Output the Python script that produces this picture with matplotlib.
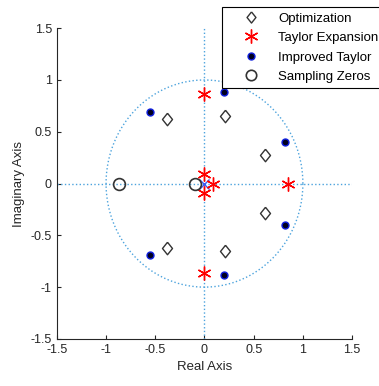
import numpy as np
import matplotlib.pyplot as plt
from matplotlib.lines import Line2D

plt.rcParams['font.family'] = ['Liberation Sans', 'DejaVu Sans']

# zero locations
opt_re = [-0.38, -0.38, 0.21, 0.21, 0.62, 0.62]
opt_im = [0.62, -0.62, 0.65, -0.65, 0.28, -0.28]

taylor_re = [0.0, 0.0, 0.0, 0.0, 0.09, 0.85]
taylor_im = [0.86, -0.86, 0.09, -0.09, 0.0, 0.0]

impr_re = [-0.55, -0.55, 0.20, 0.20, 0.82, 0.82]
impr_im = [0.69, -0.69, 0.88, -0.88, 0.40, -0.40]

samp_re = [-0.87, -0.10]
samp_im = [0.0, 0.0]

pole_re = [0.0]
pole_im = [0.0]

labels = ['Optimization', 'Taylor Expansion', 'Improved Taylor', 'Sampling Zeros']

grid_col = '#4ca3dd'
txt_col = '#262626'
diamond = [(0, 1), (0.8, 0), (0, -1), (-0.8, 0), (0, 1)]

fig = plt.figure(figsize=(3.79, 3.86), dpi=100)
ax = fig.add_axes([0.150, 0.122, 0.779, 0.805])

# unit circle and axes lines
t = np.linspace(0, 2 * np.pi, 400)
ax.plot(np.cos(t), np.sin(t), ':', color=grid_col, lw=1)
ax.plot([-1.5, 1.5], [0, 0], ':', color=grid_col, lw=1)
ax.plot([0, 0], [-1.5, 1.5], ':', color=grid_col, lw=1)

ax.plot(pole_re, pole_im, 'x', color='#3b5cf5', ms=7, mew=1)
h1, = ax.plot(opt_re, opt_im, marker=diamond, mfc='none', mec='#333333',
              ms=9, mew=1, ls='none')
# MATLAB-style asterisk
ax.plot(taylor_re, taylor_im, marker=(6, 2, 0), color='red', ms=10, mew=1,
        ls='none')
h3, = ax.plot(impr_re, impr_im, 'o', mfc='#000020', mec='#1020e0', ms=5,
              mew=1, ls='none')
h4, = ax.plot(samp_re, samp_im, 'o', mfc='none', mec='#333333', ms=8.5,
              mew=1.2, ls='none')

ax.set_xlim(-1.5, 1.5)
ax.set_ylim(-1.5, 1.5)
ax.set_xticks([-1.5, -1, -0.5, 0, 0.5, 1, 1.5])
ax.set_xticklabels(['-1.5', '-1', '-0.5', '0', '0.5', '1', '1.5'])
ax.set_yticks([-1.5, -1, -0.5, 0, 0.5, 1, 1.5])
ax.set_yticklabels(['-1.5', '-1', '-0.5', '0', '0.5', '1', '1.5'])
ax.spines['top'].set_visible(False)
ax.spines['right'].set_visible(False)
for s in ['left', 'bottom']:
    ax.spines[s].set_color(txt_col)
    ax.spines[s].set_linewidth(0.8)
ax.tick_params(labelsize=9, colors=txt_col, direction='in', length=3)
ax.set_xlabel('Real Axis', fontsize=9.5, color=txt_col)
ax.set_ylabel('Imaginary Axis', fontsize=9.5, color=txt_col)

d_leg = Line2D([], [], marker=diamond, mfc='none', mec='#333333', ms=8,
               mew=1, ls='none')
star = Line2D([], [], marker=(6, 2, 0), color='red', ms=10, mew=1, ls='none')
dot = Line2D([], [], marker='o', mfc='#000020', mec='#1020e0', ms=5, mew=1,
             ls='none')
circ = Line2D([], [], marker='o', mfc='none', mec='#333333', ms=7.5, mew=1.2,
              ls='none')
leg = fig.legend([d_leg, star, dot, circ], labels,
                 loc='upper left', bbox_to_anchor=(222 / 379, 1 - 7 / 386),
                 borderaxespad=0, fontsize=9.5, frameon=True, fancybox=False,
                 edgecolor='black', framealpha=1, borderpad=0.4,
                 labelspacing=0.55, handlelength=3.6, handletextpad=0.25)
leg.get_frame().set_linewidth(0.8)

plt.savefig('out.png', dpi=100)
